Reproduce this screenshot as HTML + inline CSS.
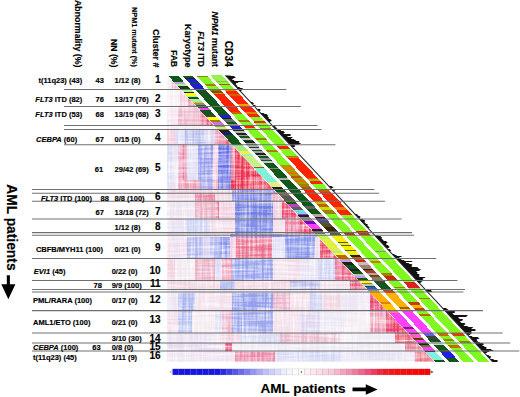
<!DOCTYPE html>
<html><head><meta charset="utf-8"><title>AML clusters</title>
<style>html,body{margin:0;padding:0;background:#fff;}body{width:520px;height:397px;overflow:hidden;font-family:"Liberation Sans",sans-serif;}svg{display:block;}</style>
</head><body>
<svg width="520" height="397" viewBox="0 0 520 397">
<clipPath id="tri"><polygon points="167.20,75.40 434.49,361.80 167.20,361.80"/></clipPath>
<filter id="tex" x="160" y="70" width="290" height="300" filterUnits="userSpaceOnUse" color-interpolation-filters="sRGB">
  <feTurbulence type="fractalNoise" baseFrequency="0.45 0.025" numOctaves="2" seed="5" result="n1"/>
  <feTurbulence type="fractalNoise" baseFrequency="0.025 0.45" numOctaves="2" seed="9" result="n2"/>
  <feTurbulence type="fractalNoise" baseFrequency="1.0" numOctaves="1" seed="2" result="n3"/>
  <feComposite in="n1" in2="n2" operator="arithmetic" k2="0.5" k3="0.5" result="n12"/>
  <feComposite in="n12" in2="n3" operator="arithmetic" k2="0.5" k3="0.25" result="n"/>
  <feColorMatrix in="n" type="matrix" values="0 0 0 0 1  0 0 0 0 1  0 0 0 0 1  3.5 0 0 0 -1.5" result="w"/>
  <feComposite in="w" in2="SourceGraphic" operator="atop" result="o"/>
  <feGaussianBlur in="o" stdDeviation="0.5"/>
</filter>
<g clip-path="url(#tri)"><g filter="url(#tex)">
<rect x="166.0" y="75.4" width="6.0" height="13.9" fill="#f6eaf0"/>
<rect x="172.0" y="75.4" width="9.0" height="13.9" fill="#f0bacf"/>
<rect x="166.0" y="89.3" width="14.0" height="17.3" fill="#f6eef4"/>
<rect x="180.0" y="89.3" width="8.0" height="17.3" fill="#f4cfdd"/>
<rect x="188.0" y="89.3" width="9.0" height="17.3" fill="#eb89a4"/>
<rect x="166.0" y="106.6" width="12.0" height="19.0" fill="#f6e5ee"/>
<rect x="178.0" y="106.6" width="22.0" height="19.0" fill="#edb7ca"/>
<rect x="200.0" y="106.6" width="7.0" height="19.0" fill="#eb7e9e"/>
<rect x="207.0" y="106.6" width="8.0" height="19.0" fill="#eb4d73"/>
<rect x="166.0" y="125.6" width="52.0" height="4.0" fill="#f2eaf4"/>
<rect x="166.0" y="129.6" width="9.0" height="14.6" fill="#f4cfdb"/>
<rect x="175.0" y="129.6" width="10.0" height="14.6" fill="#dbdbf4"/>
<rect x="185.0" y="129.6" width="20.0" height="14.6" fill="#b4baeb"/>
<rect x="205.0" y="129.6" width="10.0" height="14.6" fill="#dbd3f0"/>
<rect x="215.0" y="129.6" width="10.0" height="14.6" fill="#eb94af"/>
<rect x="225.0" y="129.6" width="7.0" height="14.6" fill="#eb6386"/>
<rect x="166.0" y="144.2" width="6.0" height="35.8" fill="#d7d7f4"/>
<rect x="172.0" y="144.2" width="6.0" height="35.8" fill="#eae3f4"/>
<rect x="178.0" y="144.2" width="4.5" height="35.8" fill="#eba4bf"/>
<rect x="182.5" y="144.2" width="2.0" height="35.8" fill="#eb658b"/>
<rect x="184.5" y="144.2" width="2.5" height="35.8" fill="#eba4bf"/>
<rect x="187.0" y="144.2" width="11.0" height="35.8" fill="#dfdbf4"/>
<rect x="198.0" y="144.2" width="15.0" height="35.8" fill="#969ced"/>
<rect x="213.0" y="144.2" width="5.0" height="35.8" fill="#f0cfdf"/>
<rect x="218.0" y="144.2" width="13.0" height="35.8" fill="#636de5"/>
<rect x="231.0" y="144.2" width="4.0" height="35.8" fill="#eb7e9e"/>
<rect x="235.0" y="144.2" width="39.0" height="35.8" fill="#eb324f"/>
<rect x="166.0" y="180.0" width="6.0" height="9.5" fill="#dbd9f4"/>
<rect x="172.0" y="180.0" width="6.0" height="9.5" fill="#ecdff0"/>
<rect x="178.0" y="180.0" width="22.0" height="9.5" fill="#eb99b4"/>
<rect x="200.0" y="180.0" width="13.0" height="9.5" fill="#a9a9eb"/>
<rect x="213.0" y="180.0" width="5.0" height="9.5" fill="#ebb4ca"/>
<rect x="218.0" y="180.0" width="13.0" height="9.5" fill="#7e83e5"/>
<rect x="231.0" y="180.0" width="43.0" height="9.5" fill="#eb324f"/>
<rect x="166.0" y="189.5" width="66.0" height="3.6" fill="#ecd3e3"/>
<rect x="232.0" y="189.5" width="45.0" height="3.6" fill="#8989e5"/>
<rect x="166.0" y="193.1" width="29.0" height="8.0" fill="#f2dbe8"/>
<rect x="195.0" y="193.1" width="20.0" height="8.0" fill="#eb83a4"/>
<rect x="215.0" y="193.1" width="17.0" height="8.0" fill="#f0d7e3"/>
<rect x="232.0" y="193.1" width="40.0" height="8.0" fill="#838be8"/>
<rect x="272.0" y="193.1" width="13.0" height="8.0" fill="#eba9c2"/>
<rect x="166.0" y="201.1" width="29.0" height="18.1" fill="#eee3f0"/>
<rect x="195.0" y="201.1" width="21.0" height="18.1" fill="#ebafc4"/>
<rect x="216.0" y="201.1" width="3.0" height="18.1" fill="#eb6d8e"/>
<rect x="219.0" y="201.1" width="16.0" height="18.1" fill="#f0d1df"/>
<rect x="235.0" y="201.1" width="38.0" height="18.1" fill="#7380e2"/>
<rect x="273.0" y="201.1" width="9.0" height="18.1" fill="#f0cfdf"/>
<rect x="282.0" y="201.1" width="20.0" height="18.1" fill="#eb4770"/>
<rect x="166.0" y="219.2" width="19.0" height="14.8" fill="#e8e3f4"/>
<rect x="185.0" y="219.2" width="25.0" height="14.8" fill="#d1d5f4"/>
<rect x="210.0" y="219.2" width="25.0" height="14.8" fill="#f0d7e3"/>
<rect x="235.0" y="219.2" width="38.0" height="14.8" fill="#808ee7"/>
<rect x="273.0" y="219.2" width="12.0" height="14.8" fill="#f4dfea"/>
<rect x="285.0" y="219.2" width="15.0" height="14.8" fill="#eb83a1"/>
<rect x="300.0" y="219.2" width="16.0" height="14.8" fill="#eb375d"/>
<rect x="166.0" y="234.0" width="64.0" height="3.0" fill="#ecdff0"/>
<rect x="230.0" y="234.0" width="88.0" height="3.0" fill="#8989e5"/>
<rect x="166.0" y="237.0" width="6.0" height="21.3" fill="#f4dfec"/>
<rect x="172.0" y="237.0" width="8.0" height="21.3" fill="#e8dbf0"/>
<rect x="180.0" y="237.0" width="7.0" height="21.3" fill="#f0dbe8"/>
<rect x="187.0" y="237.0" width="16.0" height="21.3" fill="#afb4ed"/>
<rect x="203.0" y="237.0" width="7.0" height="21.3" fill="#d7d1f0"/>
<rect x="210.0" y="237.0" width="10.0" height="21.3" fill="#afb7f0"/>
<rect x="220.0" y="237.0" width="10.0" height="21.3" fill="#838eeb"/>
<rect x="230.0" y="237.0" width="6.0" height="21.3" fill="#f0cfdf"/>
<rect x="236.0" y="237.0" width="36.0" height="21.3" fill="#eb708e"/>
<rect x="272.0" y="237.0" width="13.0" height="21.3" fill="#dbdbf4"/>
<rect x="285.0" y="237.0" width="30.0" height="21.3" fill="#8996eb"/>
<rect x="315.0" y="237.0" width="5.0" height="21.3" fill="#f0dbe8"/>
<rect x="320.0" y="237.0" width="18.0" height="21.3" fill="#eb4768"/>
<rect x="166.0" y="258.3" width="9.0" height="22.0" fill="#f2d3e1"/>
<rect x="175.0" y="258.3" width="20.0" height="22.0" fill="#f2e8f0"/>
<rect x="195.0" y="258.3" width="20.0" height="22.0" fill="#ebb1c7"/>
<rect x="215.0" y="258.3" width="7.0" height="22.0" fill="#dfdbf4"/>
<rect x="222.0" y="258.3" width="10.0" height="22.0" fill="#eb99b4"/>
<rect x="232.0" y="258.3" width="41.0" height="22.0" fill="#96a1ed"/>
<rect x="273.0" y="258.3" width="27.0" height="22.0" fill="#f0dbe8"/>
<rect x="300.0" y="258.3" width="18.0" height="22.0" fill="#e8e3f4"/>
<rect x="318.0" y="258.3" width="17.0" height="22.0" fill="#cfd3f4"/>
<rect x="335.0" y="258.3" width="24.0" height="22.0" fill="#eb6386"/>
<rect x="166.0" y="280.3" width="54.0" height="10.1" fill="#f0d5e1"/>
<rect x="220.0" y="280.3" width="15.0" height="10.1" fill="#b4baf0"/>
<rect x="235.0" y="280.3" width="55.0" height="10.1" fill="#f2d7e3"/>
<rect x="290.0" y="280.3" width="30.0" height="10.1" fill="#babaed"/>
<rect x="320.0" y="280.3" width="30.0" height="10.1" fill="#f0dfea"/>
<rect x="350.0" y="280.3" width="18.0" height="10.1" fill="#eb5a7b"/>
<rect x="166.0" y="290.4" width="204.0" height="2.6" fill="#e3dff2"/>
<rect x="166.0" y="293.0" width="12.0" height="18.0" fill="#eae3f4"/>
<rect x="178.0" y="293.0" width="17.0" height="18.0" fill="#a9b4ed"/>
<rect x="195.0" y="293.0" width="37.0" height="18.0" fill="#f2dfea"/>
<rect x="232.0" y="293.0" width="41.0" height="18.0" fill="#96a1ed"/>
<rect x="273.0" y="293.0" width="17.0" height="18.0" fill="#ebb4ca"/>
<rect x="290.0" y="293.0" width="20.0" height="18.0" fill="#f2dbe5"/>
<rect x="310.0" y="293.0" width="12.0" height="18.0" fill="#cfd3f4"/>
<rect x="322.0" y="293.0" width="18.0" height="18.0" fill="#f2d7e3"/>
<rect x="340.0" y="293.0" width="30.0" height="18.0" fill="#ece5f4"/>
<rect x="370.0" y="293.0" width="17.0" height="18.0" fill="#eb3c68"/>
<rect x="166.0" y="311.0" width="12.0" height="22.0" fill="#f2dbe8"/>
<rect x="178.0" y="311.0" width="14.0" height="22.0" fill="#b4bff0"/>
<rect x="192.0" y="311.0" width="23.0" height="22.0" fill="#f4eaf0"/>
<rect x="215.0" y="311.0" width="7.0" height="22.0" fill="#dbdbf4"/>
<rect x="222.0" y="311.0" width="10.0" height="22.0" fill="#ebb4ca"/>
<rect x="232.0" y="311.0" width="41.0" height="22.0" fill="#9ca7ed"/>
<rect x="273.0" y="311.0" width="27.0" height="22.0" fill="#f2dfea"/>
<rect x="300.0" y="311.0" width="20.0" height="22.0" fill="#dfd7f0"/>
<rect x="320.0" y="311.0" width="25.0" height="22.0" fill="#ece8f4"/>
<rect x="345.0" y="311.0" width="25.0" height="22.0" fill="#f4ecf2"/>
<rect x="370.0" y="311.0" width="16.0" height="22.0" fill="#eb94af"/>
<rect x="386.0" y="311.0" width="22.0" height="22.0" fill="#eb3c68"/>
<rect x="166.0" y="333.0" width="54.0" height="10.0" fill="#ece3f2"/>
<rect x="220.0" y="333.0" width="20.0" height="10.0" fill="#f0cfdf"/>
<rect x="240.0" y="333.0" width="40.0" height="10.0" fill="#dbdbf4"/>
<rect x="280.0" y="333.0" width="60.0" height="10.0" fill="#ebbccf"/>
<rect x="340.0" y="333.0" width="55.0" height="10.0" fill="#f0eaf4"/>
<rect x="395.0" y="333.0" width="22.0" height="10.0" fill="#eb687c"/>
<rect x="166.0" y="343.0" width="59.0" height="8.5" fill="#e8dbf0"/>
<rect x="225.0" y="343.0" width="7.0" height="8.5" fill="#eb4773"/>
<rect x="232.0" y="343.0" width="173.0" height="8.5" fill="#eeeaf4"/>
<rect x="405.0" y="343.0" width="20.0" height="8.5" fill="#eb7e99"/>
<rect x="166.0" y="351.5" width="69.0" height="10.3" fill="#eee3f2"/>
<rect x="235.0" y="351.5" width="40.0" height="10.3" fill="#eb89a7"/>
<rect x="275.0" y="351.5" width="30.0" height="10.3" fill="#d7dbf4"/>
<rect x="305.0" y="351.5" width="35.0" height="10.3" fill="#cfd3f4"/>
<rect x="340.0" y="351.5" width="75.0" height="10.3" fill="#e8e3f4"/>
<rect x="415.0" y="351.5" width="21.0" height="10.3" fill="#eb687c"/>
</g></g>
<g shape-rendering="crispEdges">
<polygon points="168.07,75.80 178.17,75.80 183.96,82.00 173.86,82.00" fill="#10581a"/>
<polygon points="173.86,82.00 183.96,82.00 185.36,83.50 175.26,83.50" fill="#c0a0e0"/>
<polygon points="175.26,83.50 185.36,83.50 187.97,86.30 177.87,86.30" fill="#a8f0a0"/>
<polygon points="177.87,86.30 187.97,86.30 190.87,89.40 180.77,89.40" fill="#1a3a1a"/>
<polygon points="180.77,89.40 190.87,89.40 193.01,91.70 182.91,91.70" fill="#a8f0a0"/>
<polygon points="182.91,91.70 193.01,91.70 194.41,93.20 184.31,93.20" fill="#202020"/>
<polygon points="184.31,93.20 194.41,93.20 196.56,95.50 186.46,95.50" fill="#ffff10"/>
<polygon points="186.46,95.50 196.56,95.50 197.96,97.00 187.86,97.00" fill="#a8f0a0"/>
<polygon points="187.86,97.00 197.96,97.00 199.36,98.50 189.26,98.50" fill="#10581a"/>
<polygon points="189.26,98.50 199.36,98.50 202.16,101.50 192.06,101.50" fill="#a8f0a0"/>
<polygon points="192.06,101.50 202.16,101.50 203.56,103.00 193.46,103.00" fill="#ffb000"/>
<polygon points="193.46,103.00 203.56,103.00 205.80,105.40 195.70,105.40" fill="#70a070"/>
<polygon points="195.70,105.40 205.80,105.40 207.94,107.70 197.84,107.70" fill="#405040"/>
<polygon points="197.84,107.70 207.94,107.70 210.09,110.00 199.99,110.00" fill="#ff40ff"/>
<polygon points="199.99,110.00 210.09,110.00 214.76,115.00 204.66,115.00" fill="#10581a"/>
<polygon points="204.66,115.00 214.76,115.00 216.62,117.00 206.52,117.00" fill="#404040"/>
<polygon points="206.52,117.00 216.62,117.00 219.42,120.00 209.32,120.00" fill="#ffff10"/>
<polygon points="209.32,120.00 219.42,120.00 221.57,122.30 211.47,122.30" fill="#a08000"/>
<polygon points="211.47,122.30 221.57,122.30 223.72,124.60 213.62,124.60" fill="#d070e0"/>
<polygon points="213.62,124.60 223.72,124.60 225.96,127.00 215.86,127.00" fill="#80a080"/>
<polygon points="215.86,127.00 225.96,127.00 227.82,129.00 217.72,129.00" fill="#d8f060"/>
<polygon points="217.72,129.00 227.82,129.00 230.62,132.00 220.52,132.00" fill="#202020"/>
<polygon points="220.52,132.00 230.62,132.00 233.42,135.00 223.32,135.00" fill="#202060"/>
<polygon points="223.32,135.00 233.42,135.00 241.54,143.70 231.44,143.70" fill="#10581a"/>
<polygon points="231.44,143.70 241.54,143.70 242.76,145.00 232.66,145.00" fill="#202020"/>
<polygon points="232.66,145.00 242.76,145.00 247.98,150.60 237.88,150.60" fill="#a0e880"/>
<polygon points="237.88,150.60 247.98,150.60 250.88,153.70 240.78,153.70" fill="#f0f040"/>
<polygon points="240.78,153.70 250.88,153.70 253.02,156.00 242.92,156.00" fill="#a0f0c0"/>
<polygon points="242.92,156.00 253.02,156.00 263.10,166.80 253.00,166.80" fill="#c8f088"/>
<polygon points="253.00,166.80 263.10,166.80 264.50,168.30 254.40,168.30" fill="#806020"/>
<polygon points="254.40,168.30 264.50,168.30 277.29,182.00 267.19,182.00" fill="#80f0d8"/>
<polygon points="267.19,182.00 277.29,182.00 281.95,187.00 271.85,187.00" fill="#e0f080"/>
<polygon points="271.85,187.00 281.95,187.00 284.19,189.40 274.09,189.40" fill="#202020"/>
<polygon points="274.09,189.40 284.19,189.40 286.34,191.70 276.24,191.70" fill="#10581a"/>
<polygon points="276.24,191.70 286.34,191.70 289.89,195.50 279.79,195.50" fill="#707050"/>
<polygon points="279.79,195.50 289.89,195.50 293.53,199.40 283.43,199.40" fill="#605060"/>
<polygon points="283.43,199.40 293.53,199.40 295.95,202.00 285.85,202.00" fill="#506030"/>
<polygon points="285.85,202.00 295.95,202.00 297.82,204.00 287.72,204.00" fill="#10581a"/>
<polygon points="287.72,204.00 297.82,204.00 300.62,207.00 290.52,207.00" fill="#c040c0"/>
<polygon points="290.52,207.00 300.62,207.00 303.42,210.00 293.32,210.00" fill="#606060"/>
<polygon points="293.32,210.00 303.42,210.00 306.68,213.50 296.58,213.50" fill="#80d0f0"/>
<polygon points="296.58,213.50 306.68,213.50 308.08,215.00 297.98,215.00" fill="#8040c0"/>
<polygon points="297.98,215.00 308.08,215.00 309.95,217.00 299.85,217.00" fill="#202020"/>
<polygon points="299.85,217.00 309.95,217.00 313.68,221.00 303.58,221.00" fill="#909090"/>
<polygon points="303.58,221.00 313.68,221.00 316.48,224.00 306.38,224.00" fill="#8000c0"/>
<polygon points="306.38,224.00 316.48,224.00 321.15,229.00 311.05,229.00" fill="#ff40ff"/>
<polygon points="311.05,229.00 321.15,229.00 323.02,231.00 312.92,231.00" fill="#202020"/>
<polygon points="312.92,231.00 323.02,231.00 325.35,233.50 315.25,233.50" fill="#707070"/>
<polygon points="315.25,233.50 325.35,233.50 330.48,239.00 320.38,239.00" fill="#c0f060"/>
<polygon points="320.38,239.00 330.48,239.00 341.50,250.80 331.40,250.80" fill="#e0f040"/>
<polygon points="331.40,250.80 341.50,250.80 343.55,253.00 333.45,253.00" fill="#a8f0a0"/>
<polygon points="333.45,253.00 343.55,253.00 345.79,255.40 335.69,255.40" fill="#ffff10"/>
<polygon points="335.69,255.40 345.79,255.40 347.94,257.70 337.84,257.70" fill="#c06000"/>
<polygon points="337.84,257.70 347.94,257.70 350.08,260.00 339.98,260.00" fill="#f0a000"/>
<polygon points="339.98,260.00 350.08,260.00 352.23,262.30 342.13,262.30" fill="#c0a0e0"/>
<polygon points="342.13,262.30 352.23,262.30 355.12,265.40 345.02,265.40" fill="#202020"/>
<polygon points="345.02,265.40 355.12,265.40 358.67,269.20 348.57,269.20" fill="#10581a"/>
<polygon points="348.57,269.20 358.67,269.20 360.35,271.00 350.25,271.00" fill="#202020"/>
<polygon points="350.25,271.00 360.35,271.00 362.68,273.50 352.58,273.50" fill="#10581a"/>
<polygon points="352.58,273.50 362.68,273.50 365.01,276.00 354.91,276.00" fill="#c0c0c0"/>
<polygon points="354.91,276.00 365.01,276.00 366.88,278.00 356.78,278.00" fill="#c0a0e0"/>
<polygon points="356.78,278.00 366.88,278.00 369.03,280.30 358.93,280.30" fill="#10581a"/>
<polygon points="358.93,280.30 369.03,280.30 371.17,282.60 361.07,282.60" fill="#ffff10"/>
<polygon points="361.07,282.60 371.17,282.60 372.48,284.00 362.38,284.00" fill="#a08000"/>
<polygon points="362.38,284.00 372.48,284.00 374.07,285.70 363.97,285.70" fill="#c0c0c0"/>
<polygon points="363.97,285.70 374.07,285.70 375.47,287.20 365.37,287.20" fill="#10581a"/>
<polygon points="365.37,287.20 375.47,287.20 377.61,289.50 367.51,289.50" fill="#2060e0"/>
<polygon points="367.51,289.50 377.61,289.50 379.01,291.00 368.91,291.00" fill="#909090"/>
<polygon points="368.91,291.00 379.01,291.00 389.28,302.00 379.18,302.00" fill="#ffb000"/>
<polygon points="379.18,302.00 389.28,302.00 390.87,303.70 380.77,303.70" fill="#e08000"/>
<polygon points="380.77,303.70 390.87,303.70 397.31,310.60 387.21,310.60" fill="#ffc000"/>
<polygon points="387.21,310.60 397.31,310.60 399.55,313.00 389.45,313.00" fill="#ff8080"/>
<polygon points="389.45,313.00 399.55,313.00 412.24,326.60 402.14,326.60" fill="#ff40ff"/>
<polygon points="402.14,326.60 412.24,326.60 414.48,329.00 404.38,329.00" fill="#802080"/>
<polygon points="404.38,329.00 414.48,329.00 418.02,332.80 407.92,332.80" fill="#ff40ff"/>
<polygon points="407.92,332.80 418.02,332.80 419.42,334.30 409.32,334.30" fill="#202020"/>
<polygon points="409.32,334.30 419.42,334.30 422.88,338.00 412.78,338.00" fill="#ff60c0"/>
<polygon points="412.78,338.00 422.88,338.00 425.02,340.30 414.92,340.30" fill="#604000"/>
<polygon points="414.92,340.30 425.02,340.30 427.17,342.60 417.07,342.60" fill="#ff40ff"/>
<polygon points="417.07,342.60 427.17,342.60 429.41,345.00 419.31,345.00" fill="#202020"/>
<polygon points="419.31,345.00 429.41,345.00 431.65,347.40 421.55,347.40" fill="#608020"/>
<polygon points="421.55,347.40 431.65,347.40 434.54,350.50 424.44,350.50" fill="#ff40ff"/>
<polygon points="424.44,350.50 434.54,350.50 435.94,352.00 425.84,352.00" fill="#202020"/>
<polygon points="425.84,352.00 435.94,352.00 443.41,360.00 433.31,360.00" fill="#80f0e0"/>
<polygon points="433.31,360.00 443.41,360.00 445.09,361.80 434.99,361.80" fill="#10581a"/>
<polygon points="182.37,75.80 192.57,75.80 194.44,77.80 184.24,77.80" fill="#10581a"/>
<polygon points="184.24,77.80 194.44,77.80 195.93,79.40 185.73,79.40" fill="#202020"/>
<polygon points="185.73,79.40 195.93,79.40 198.83,82.50 188.63,82.50" fill="#2020d0"/>
<polygon points="188.63,82.50 198.83,82.50 200.23,84.00 190.03,84.00" fill="#10581a"/>
<polygon points="190.03,84.00 200.23,84.00 204.52,88.60 194.32,88.60" fill="#2020d0"/>
<polygon points="194.32,88.60 204.52,88.60 205.83,90.00 195.63,90.00" fill="#202020"/>
<polygon points="195.63,90.00 205.83,90.00 207.41,91.70 197.21,91.70" fill="#10581a"/>
<polygon points="197.21,91.70 207.41,91.70 209.56,94.00 199.36,94.00" fill="#304030"/>
<polygon points="199.36,94.00 209.56,94.00 229.53,115.40 219.33,115.40" fill="#10581a"/>
<polygon points="219.33,115.40 229.53,115.40 231.68,117.70 221.48,117.70" fill="#2020d0"/>
<polygon points="221.48,117.70 231.68,117.70 233.08,119.20 222.88,119.20" fill="#202020"/>
<polygon points="222.88,119.20 233.08,119.20 235.22,121.50 225.02,121.50" fill="#607060"/>
<polygon points="225.02,121.50 235.22,121.50 237.37,123.80 227.17,123.80" fill="#10581a"/>
<polygon points="227.17,123.80 237.37,123.80 238.86,125.40 228.66,125.40" fill="#909090"/>
<polygon points="228.66,125.40 238.86,125.40 242.41,129.20 232.21,129.20" fill="#2020d0"/>
<polygon points="232.21,129.20 242.41,129.20 244.46,131.40 234.26,131.40" fill="#183018"/>
<polygon points="234.26,131.40 244.46,131.40 245.96,133.00 235.76,133.00" fill="#b8b8b8"/>
<polygon points="235.76,133.00 245.96,133.00 247.36,134.50 237.16,134.50" fill="#202020"/>
<polygon points="237.16,134.50 247.36,134.50 248.29,135.50 238.09,135.50" fill="#a0a0a0"/>
<polygon points="238.09,135.50 248.29,135.50 250.90,138.30 240.70,138.30" fill="#10581a"/>
<polygon points="240.70,138.30 250.90,138.30 252.02,139.50 241.82,139.50" fill="#c0c0c0"/>
<polygon points="241.82,139.50 252.02,139.50 253.80,141.40 243.60,141.40" fill="#10581a"/>
<polygon points="243.60,141.40 253.80,141.40 254.92,142.60 244.72,142.60" fill="#202020"/>
<polygon points="244.72,142.60 254.92,142.60 255.94,143.70 245.74,143.70" fill="#a8a8a8"/>
<polygon points="245.74,143.70 255.94,143.70 257.34,145.20 247.14,145.20" fill="#10581a"/>
<polygon points="247.14,145.20 257.34,145.20 258.84,146.80 248.64,146.80" fill="#b0b0b0"/>
<polygon points="248.64,146.80 258.84,146.80 260.24,148.30 250.04,148.30" fill="#283828"/>
<polygon points="250.04,148.30 260.24,148.30 261.64,149.80 251.44,149.80" fill="#c8c8c8"/>
<polygon points="251.44,149.80 261.64,149.80 263.13,151.40 252.93,151.40" fill="#10581a"/>
<polygon points="252.93,151.40 263.13,151.40 264.62,153.00 254.42,153.00" fill="#a0a0a0"/>
<polygon points="254.42,153.00 264.62,153.00 266.02,154.50 255.82,154.50" fill="#202020"/>
<polygon points="255.82,154.50 266.02,154.50 267.42,156.00 257.22,156.00" fill="#b0b0b0"/>
<polygon points="257.22,156.00 267.42,156.00 269.29,158.00 259.09,158.00" fill="#10581a"/>
<polygon points="259.09,158.00 269.29,158.00 270.69,159.50 260.49,159.50" fill="#909090"/>
<polygon points="260.49,159.50 270.69,159.50 271.71,160.60 261.51,160.60" fill="#10581a"/>
<polygon points="261.51,160.60 271.71,160.60 273.95,163.00 263.75,163.00" fill="#c8c8c8"/>
<polygon points="263.75,163.00 273.95,163.00 278.15,167.50 267.95,167.50" fill="#10581a"/>
<polygon points="267.95,167.50 278.15,167.50 279.55,169.00 269.35,169.00" fill="#908070"/>
<polygon points="269.35,169.00 279.55,169.00 287.49,177.50 277.29,177.50" fill="#10581a"/>
<polygon points="277.29,177.50 287.49,177.50 289.82,180.00 279.62,180.00" fill="#b0b0b0"/>
<polygon points="279.62,180.00 289.82,180.00 313.62,205.50 303.42,205.50" fill="#10581a"/>
<polygon points="303.42,205.50 313.62,205.50 316.89,209.00 306.69,209.00" fill="#606060"/>
<polygon points="306.69,209.00 316.89,209.00 321.08,213.50 310.88,213.50" fill="#10581a"/>
<polygon points="310.88,213.50 321.08,213.50 323.98,216.60 313.78,216.60" fill="#c0a0a0"/>
<polygon points="313.78,216.60 323.98,216.60 326.22,219.00 316.02,219.00" fill="#202020"/>
<polygon points="316.02,219.00 326.22,219.00 328.08,221.00 317.88,221.00" fill="#6040c0"/>
<polygon points="317.88,221.00 328.08,221.00 330.88,224.00 320.68,224.00" fill="#505050"/>
<polygon points="320.68,224.00 330.88,224.00 334.06,227.40 323.86,227.40" fill="#505020"/>
<polygon points="323.86,227.40 334.06,227.40 336.95,230.50 326.75,230.50" fill="#402010"/>
<polygon points="326.75,230.50 336.95,230.50 341.15,235.00 330.95,235.00" fill="#406040"/>
<polygon points="330.95,235.00 341.15,235.00 347.68,242.00 337.48,242.00" fill="#f0f000"/>
<polygon points="337.48,242.00 347.68,242.00 348.62,243.00 338.42,243.00" fill="#606000"/>
<polygon points="338.42,243.00 348.62,243.00 350.48,245.00 340.28,245.00" fill="#f0f000"/>
<polygon points="340.28,245.00 350.48,245.00 351.42,246.00 341.22,246.00" fill="#606000"/>
<polygon points="341.22,246.00 351.42,246.00 355.15,250.00 344.95,250.00" fill="#f0f000"/>
<polygon points="344.95,250.00 355.15,250.00 356.08,251.00 345.88,251.00" fill="#606000"/>
<polygon points="345.88,251.00 356.08,251.00 360.19,255.40 349.99,255.40" fill="#f0f000"/>
<polygon points="349.99,255.40 360.19,255.40 361.68,257.00 351.48,257.00" fill="#202020"/>
<polygon points="351.48,257.00 361.68,257.00 364.48,260.00 354.28,260.00" fill="#c06000"/>
<polygon points="354.28,260.00 364.48,260.00 366.63,262.30 356.43,262.30" fill="#e02020"/>
<polygon points="356.43,262.30 366.63,262.30 369.52,265.40 359.32,265.40" fill="#c0c0c0"/>
<polygon points="359.32,265.40 369.52,265.40 373.07,269.20 362.87,269.20" fill="#a08070"/>
<polygon points="362.87,269.20 373.07,269.20 374.09,270.30 363.89,270.30" fill="#202020"/>
<polygon points="363.89,270.30 374.09,270.30 376.24,272.60 366.04,272.60" fill="#a04020"/>
<polygon points="366.04,272.60 376.24,272.60 378.39,274.90 368.19,274.90" fill="#c0a0a0"/>
<polygon points="368.19,274.90 378.39,274.90 380.53,277.20 370.33,277.20" fill="#804020"/>
<polygon points="370.33,277.20 380.53,277.20 383.43,280.30 373.23,280.30" fill="#808060"/>
<polygon points="373.23,280.30 383.43,280.30 386.32,283.40 376.12,283.40" fill="#404040"/>
<polygon points="376.12,283.40 386.32,283.40 392.01,289.50 381.81,289.50" fill="#10581a"/>
<polygon points="381.81,289.50 392.01,289.50 394.91,292.60 384.71,292.60" fill="#c04020"/>
<polygon points="384.71,292.60 394.91,292.60 408.16,306.80 397.96,306.80" fill="#ffb000"/>
<polygon points="397.96,306.80 408.16,306.80 410.21,309.00 400.01,309.00" fill="#a06000"/>
<polygon points="400.01,309.00 410.21,309.00 412.45,311.40 402.25,311.40" fill="#ffc020"/>
<polygon points="402.25,311.40 412.45,311.40 432.42,332.80 422.22,332.80" fill="#ff40ff"/>
<polygon points="422.22,332.80 432.42,332.80 435.41,336.00 425.21,336.00" fill="#6060e0"/>
<polygon points="425.21,336.00 435.41,336.00 438.21,339.00 428.01,339.00" fill="#404040"/>
<polygon points="428.01,339.00 438.21,339.00 441.01,342.00 430.81,342.00" fill="#10581a"/>
<polygon points="430.81,342.00 441.01,342.00 443.81,345.00 433.61,345.00" fill="#d0d0d0"/>
<polygon points="433.61,345.00 443.81,345.00 448.94,350.50 438.74,350.50" fill="#10581a"/>
<polygon points="438.74,350.50 448.94,350.50 450.34,352.00 440.14,352.00" fill="#202020"/>
<polygon points="440.14,352.00 450.34,352.00 455.94,358.00 445.74,358.00" fill="#2020e0"/>
<polygon points="445.74,358.00 455.94,358.00 459.49,361.80 449.29,361.80" fill="#10581a"/>
<polygon points="196.57,75.80 207.07,75.80 208.19,77.00 197.69,77.00" fill="#a08000"/>
<polygon points="197.69,77.00 208.19,77.00 214.73,84.00 204.23,84.00" fill="#80f820"/>
<polygon points="204.23,84.00 214.73,84.00 216.13,85.50 205.63,85.50" fill="#a08000"/>
<polygon points="205.63,85.50 216.13,85.50 219.77,89.40 209.27,89.40" fill="#80f820"/>
<polygon points="209.27,89.40 219.77,89.40 221.26,91.00 210.76,91.00" fill="#b06000"/>
<polygon points="210.76,91.00 221.26,91.00 222.66,92.50 212.16,92.50" fill="#606000"/>
<polygon points="212.16,92.50 222.66,92.50 224.06,94.00 213.56,94.00" fill="#e08000"/>
<polygon points="213.56,94.00 224.06,94.00 240.39,111.50 229.89,111.50" fill="#ff2400"/>
<polygon points="229.89,111.50 240.39,111.50 242.54,113.80 232.04,113.80" fill="#d06000"/>
<polygon points="232.04,113.80 242.54,113.80 248.32,120.00 237.82,120.00" fill="#80f820"/>
<polygon points="237.82,120.00 248.32,120.00 249.72,121.50 239.22,121.50" fill="#a08000"/>
<polygon points="239.22,121.50 249.72,121.50 253.92,126.00 243.42,126.00" fill="#80f820"/>
<polygon points="243.42,126.00 253.92,126.00 255.32,127.50 244.82,127.50" fill="#ff2400"/>
<polygon points="244.82,127.50 255.32,127.50 265.40,138.30 254.90,138.30" fill="#80f820"/>
<polygon points="254.90,138.30 265.40,138.30 266.99,140.00 256.49,140.00" fill="#a08000"/>
<polygon points="256.49,140.00 266.99,140.00 276.32,150.00 265.82,150.00" fill="#80f820"/>
<polygon points="265.82,150.00 276.32,150.00 277.72,151.50 267.22,151.50" fill="#a08000"/>
<polygon points="267.22,151.50 277.72,151.50 289.85,164.50 279.35,164.50" fill="#80f820"/>
<polygon points="279.35,164.50 289.85,164.50 292.19,167.00 281.69,167.00" fill="#a0a000"/>
<polygon points="281.69,167.00 292.19,167.00 294.99,170.00 284.49,170.00" fill="#e08000"/>
<polygon points="284.49,170.00 294.99,170.00 296.85,172.00 286.35,172.00" fill="#a0a000"/>
<polygon points="286.35,172.00 296.85,172.00 298.72,174.00 288.22,174.00" fill="#e07000"/>
<polygon points="288.22,174.00 298.72,174.00 300.59,176.00 290.09,176.00" fill="#a0a000"/>
<polygon points="290.09,176.00 300.59,176.00 302.45,178.00 291.95,178.00" fill="#c05000"/>
<polygon points="291.95,178.00 302.45,178.00 304.32,180.00 293.82,180.00" fill="#a0a000"/>
<polygon points="293.82,180.00 304.32,180.00 306.19,182.00 295.69,182.00" fill="#e07000"/>
<polygon points="295.69,182.00 306.19,182.00 308.05,184.00 297.55,184.00" fill="#a0a000"/>
<polygon points="297.55,184.00 308.05,184.00 310.85,187.00 300.35,187.00" fill="#a08000"/>
<polygon points="300.35,187.00 310.85,187.00 312.72,189.00 302.22,189.00" fill="#c05000"/>
<polygon points="302.22,189.00 312.72,189.00 323.92,201.00 313.42,201.00" fill="#ff2400"/>
<polygon points="313.42,201.00 323.92,201.00 326.72,204.00 316.22,204.00" fill="#c0c000"/>
<polygon points="316.22,204.00 326.72,204.00 329.52,207.00 319.02,207.00" fill="#c06000"/>
<polygon points="319.02,207.00 329.52,207.00 332.32,210.00 321.82,210.00" fill="#c0e000"/>
<polygon points="321.82,210.00 332.32,210.00 335.58,213.50 325.08,213.50" fill="#a08000"/>
<polygon points="325.08,213.50 335.58,213.50 352.38,231.50 341.88,231.50" fill="#80f820"/>
<polygon points="341.88,231.50 352.38,231.50 355.18,234.50 344.68,234.50" fill="#d02800"/>
<polygon points="344.68,234.50 355.18,234.50 379.92,261.00 369.42,261.00" fill="#80f820"/>
<polygon points="369.42,261.00 379.92,261.00 381.32,262.50 370.82,262.50" fill="#e07000"/>
<polygon points="370.82,262.50 381.32,262.50 391.11,273.00 380.61,273.00" fill="#80f820"/>
<polygon points="380.61,273.00 391.11,273.00 393.63,275.70 383.13,275.70" fill="#a08000"/>
<polygon points="383.13,275.70 393.63,275.70 397.93,280.30 387.43,280.30" fill="#c03000"/>
<polygon points="387.43,280.30 397.93,280.30 403.71,286.50 393.21,286.50" fill="#80f820"/>
<polygon points="393.21,286.50 403.71,286.50 405.11,288.00 394.61,288.00" fill="#a08000"/>
<polygon points="394.61,288.00 405.11,288.00 418.18,302.00 407.68,302.00" fill="#80f820"/>
<polygon points="407.68,302.00 418.18,302.00 420.98,305.00 410.48,305.00" fill="#c04000"/>
<polygon points="410.48,305.00 420.98,305.00 423.31,307.50 412.81,307.50" fill="#ffb000"/>
<polygon points="412.81,307.50 423.31,307.50 426.95,311.40 416.45,311.40" fill="#c04000"/>
<polygon points="416.45,311.40 426.95,311.40 429.10,313.70 418.60,313.70" fill="#80f820"/>
<polygon points="418.60,313.70 429.10,313.70 431.25,316.00 420.75,316.00" fill="#c06000"/>
<polygon points="420.75,316.00 431.25,316.00 446.92,332.80 436.42,332.80" fill="#80f820"/>
<polygon points="436.42,332.80 446.92,332.80 449.91,336.00 439.41,336.00" fill="#c07000"/>
<polygon points="439.41,336.00 449.91,336.00 452.71,339.00 442.21,339.00" fill="#80f820"/>
<polygon points="442.21,339.00 452.71,339.00 454.58,341.00 444.08,341.00" fill="#a08000"/>
<polygon points="444.08,341.00 454.58,341.00 458.31,345.00 447.81,345.00" fill="#80f820"/>
<polygon points="447.81,345.00 458.31,345.00 461.11,348.00 450.61,348.00" fill="#c07000"/>
<polygon points="450.61,348.00 461.11,348.00 473.99,361.80 463.49,361.80" fill="#80f820"/>
<polygon points="210.50,75.40 221.90,75.40 227.13,81.00 215.73,81.00" fill="#98f050"/>
<polygon points="215.73,81.00 227.13,81.00 228.06,82.00 216.66,82.00" fill="#90c040"/>
<polygon points="216.66,82.00 228.06,82.00 229.46,83.50 218.06,83.50" fill="#90f040"/>
<polygon points="218.06,83.50 229.46,83.50 230.86,85.00 219.46,85.00" fill="#a06000"/>
<polygon points="219.46,85.00 230.86,85.00 234.97,89.40 223.57,89.40" fill="#80f820"/>
<polygon points="223.57,89.40 234.97,89.40 236.46,91.00 225.06,91.00" fill="#e08000"/>
<polygon points="225.06,91.00 236.46,91.00 239.26,94.00 227.86,94.00" fill="#ff2400"/>
<polygon points="227.86,94.00 239.26,94.00 241.13,96.00 229.73,96.00" fill="#d06000"/>
<polygon points="229.73,96.00 241.13,96.00 248.59,104.00 237.19,104.00" fill="#ff2400"/>
<polygon points="237.19,104.00 248.59,104.00 249.99,105.50 238.59,105.50" fill="#f0a000"/>
<polygon points="238.59,105.50 249.99,105.50 256.34,112.30 244.94,112.30" fill="#ff2400"/>
<polygon points="244.94,112.30 256.34,112.30 257.92,114.00 246.52,114.00" fill="#e08000"/>
<polygon points="246.52,114.00 257.92,114.00 260.72,117.00 249.32,117.00" fill="#ff2400"/>
<polygon points="249.32,117.00 260.72,117.00 264.46,121.00 253.06,121.00" fill="#80f820"/>
<polygon points="253.06,121.00 264.46,121.00 266.32,123.00 254.92,123.00" fill="#ff2400"/>
<polygon points="254.92,123.00 266.32,123.00 270.99,128.00 259.59,128.00" fill="#80f820"/>
<polygon points="259.59,128.00 270.99,128.00 271.92,129.00 260.52,129.00" fill="#a08000"/>
<polygon points="260.52,129.00 271.92,129.00 287.79,146.00 276.39,146.00" fill="#80f820"/>
<polygon points="276.39,146.00 287.79,146.00 290.59,149.00 279.19,149.00" fill="#ff2400"/>
<polygon points="279.19,149.00 290.59,149.00 297.12,156.00 285.72,156.00" fill="#80f820"/>
<polygon points="285.72,156.00 297.12,156.00 298.05,157.00 286.65,157.00" fill="#a08000"/>
<polygon points="286.65,157.00 298.05,157.00 299.27,158.30 287.87,158.30" fill="#e08000"/>
<polygon points="287.87,158.30 299.27,158.30 317.37,177.70 305.97,177.70" fill="#ff2400"/>
<polygon points="305.97,177.70 317.37,177.70 318.77,179.20 307.37,179.20" fill="#e06000"/>
<polygon points="307.37,179.20 318.77,179.20 320.45,181.00 309.05,181.00" fill="#a0c000"/>
<polygon points="309.05,181.00 320.45,181.00 322.79,183.50 311.39,183.50" fill="#ff2400"/>
<polygon points="311.39,183.50 322.79,183.50 327.73,188.80 316.33,188.80" fill="#80f820"/>
<polygon points="316.33,188.80 327.73,188.80 328.48,189.60 317.08,189.60" fill="#a08000"/>
<polygon points="317.08,189.60 328.48,189.60 330.25,191.50 318.85,191.50" fill="#c06000"/>
<polygon points="318.85,191.50 330.25,191.50 344.72,207.00 333.32,207.00" fill="#ff2400"/>
<polygon points="333.32,207.00 344.72,207.00 347.52,210.00 336.12,210.00" fill="#e08000"/>
<polygon points="336.12,210.00 347.52,210.00 352.18,215.00 340.78,215.00" fill="#ff2400"/>
<polygon points="340.78,215.00 352.18,215.00 366.65,230.50 355.25,230.50" fill="#80f820"/>
<polygon points="355.25,230.50 366.65,230.50 370.48,234.60 359.08,234.60" fill="#e02000"/>
<polygon points="359.08,234.60 370.48,234.60 385.32,250.50 373.92,250.50" fill="#80f820"/>
<polygon points="373.92,250.50 385.32,250.50 386.25,251.50 374.85,251.50" fill="#909090"/>
<polygon points="374.85,251.50 386.25,251.50 414.53,281.80 403.13,281.80" fill="#80f820"/>
<polygon points="403.13,281.80 414.53,281.80 420.31,288.00 408.91,288.00" fill="#e02020"/>
<polygon points="408.91,288.00 420.31,288.00 429.65,298.00 418.25,298.00" fill="#80f820"/>
<polygon points="418.25,298.00 429.65,298.00 430.58,299.00 419.18,299.00" fill="#a08000"/>
<polygon points="419.18,299.00 430.58,299.00 461.84,332.50 450.44,332.50" fill="#80f820"/>
<polygon points="450.44,332.50 461.84,332.50 464.64,335.50 453.24,335.50" fill="#e04000"/>
<polygon points="453.24,335.50 464.64,335.50 469.31,340.50 457.91,340.50" fill="#80f820"/>
<polygon points="457.91,340.50 469.31,340.50 471.46,342.80 460.06,342.80" fill="#a08000"/>
<polygon points="460.06,342.80 471.46,342.80 489.19,361.80 477.79,361.80" fill="#80f820"/>
</g>
<g fill="#111">
<polygon points="225.20,75.40 230.50,75.40 231.57,76.55 226.27,76.55"/>
<polygon points="225.67,75.90 233.97,75.90 235.04,77.05 226.74,77.05"/>
<polygon points="226.60,76.90 234.90,76.90 235.97,78.05 227.67,78.05"/>
<polygon points="227.53,77.90 232.83,77.90 233.91,79.05 228.61,79.05"/>
<polygon points="228.47,78.90 231.77,78.90 232.84,80.05 229.54,80.05"/>
<polygon points="229.40,79.90 233.70,79.90 234.77,81.05 230.47,81.05"/>
<polygon points="230.33,80.90 242.63,80.90 243.71,82.05 231.41,82.05"/>
<polygon points="231.27,81.90 237.57,81.90 238.64,83.05 232.34,83.05"/>
<polygon points="232.20,82.90 235.50,82.90 236.57,84.05 233.27,84.05"/>
<polygon points="233.13,83.90 235.43,83.90 236.51,85.05 234.21,85.05"/>
<polygon points="234.07,84.90 236.37,84.90 237.44,86.05 235.14,86.05"/>
<polygon points="235.00,85.90 236.80,85.90 237.87,87.05 236.07,87.05"/>
<polygon points="235.93,86.90 239.23,86.90 240.31,88.05 237.01,88.05"/>
<polygon points="236.87,87.90 242.17,87.90 243.24,89.05 237.94,89.05"/>
<polygon points="237.80,88.90 242.10,88.90 243.17,90.05 238.87,90.05"/>
<polygon points="238.73,89.90 241.03,89.90 242.11,91.05 239.81,91.05"/>
<polygon points="249.93,101.90 252.23,101.90 253.30,103.05 251.00,103.05"/>
<polygon points="250.86,102.90 253.16,102.90 254.24,104.05 251.94,104.05"/>
<polygon points="252.73,104.90 255.03,104.90 256.10,106.05 253.80,106.05"/>
<polygon points="253.66,105.90 256.96,105.90 258.04,107.05 254.74,107.05"/>
<polygon points="256.46,108.90 259.76,108.90 260.84,110.05 257.54,110.05"/>
<polygon points="257.40,109.90 259.70,109.90 260.77,111.05 258.47,111.05"/>
<polygon points="260.20,112.90 263.50,112.90 264.57,114.05 261.27,114.05"/>
<polygon points="261.13,113.90 266.43,113.90 267.50,115.05 262.20,115.05"/>
<polygon points="262.06,114.90 267.36,114.90 268.44,116.05 263.14,116.05"/>
<polygon points="263.00,115.90 267.30,115.90 268.37,117.05 264.07,117.05"/>
<polygon points="263.93,116.90 268.23,116.90 269.30,118.05 265.00,118.05"/>
<polygon points="264.86,117.90 268.16,117.90 269.24,119.05 265.94,119.05"/>
<polygon points="265.80,118.90 270.10,118.90 271.17,120.05 266.87,120.05"/>
<polygon points="266.73,119.90 271.03,119.90 272.10,121.05 267.80,121.05"/>
<polygon points="267.66,120.90 269.96,120.90 271.04,122.05 268.74,122.05"/>
<polygon points="272.33,125.90 274.63,125.90 275.70,127.05 273.40,127.05"/>
<polygon points="273.26,126.90 275.56,126.90 276.64,128.05 274.34,128.05"/>
<polygon points="274.20,127.90 276.50,127.90 277.57,129.05 275.27,129.05"/>
<polygon points="275.13,128.90 277.43,128.90 278.50,130.05 276.20,130.05"/>
<polygon points="276.06,129.90 280.36,129.90 281.44,131.05 277.14,131.05"/>
<polygon points="277.00,130.90 283.30,130.90 284.37,132.05 278.07,132.05"/>
<polygon points="277.93,131.90 284.23,131.90 285.30,133.05 279.00,133.05"/>
<polygon points="278.86,132.90 283.16,132.90 284.24,134.05 279.94,134.05"/>
<polygon points="279.80,133.90 290.10,133.90 291.17,135.05 280.87,135.05"/>
<polygon points="280.73,134.90 290.03,134.90 291.10,136.05 281.80,136.05"/>
<polygon points="281.66,135.90 286.96,135.90 288.04,137.05 282.74,137.05"/>
<polygon points="282.60,136.90 291.90,136.90 292.97,138.05 283.67,138.05"/>
<polygon points="283.53,137.90 290.83,137.90 291.90,139.05 284.60,139.05"/>
<polygon points="284.46,138.90 293.76,138.90 294.84,140.05 285.54,140.05"/>
<polygon points="285.40,139.90 295.30,139.90 296.37,141.05 286.47,141.05"/>
<polygon points="286.33,140.90 298.63,140.90 299.70,142.05 287.40,142.05"/>
<polygon points="287.26,141.90 298.56,141.90 299.64,143.05 288.34,143.05"/>
<polygon points="288.20,142.90 300.00,142.90 301.07,144.05 289.27,144.05"/>
<polygon points="289.13,143.90 298.43,143.90 299.50,145.05 290.20,145.05"/>
<polygon points="290.06,144.90 294.36,144.90 295.44,146.05 291.14,146.05"/>
<polygon points="291.00,145.90 294.30,145.90 295.37,147.05 292.07,147.05"/>
<polygon points="328.33,185.90 331.63,185.90 332.70,187.05 329.40,187.05"/>
<polygon points="329.26,186.90 332.56,186.90 333.63,188.05 330.33,188.05"/>
<polygon points="331.13,188.90 333.43,188.90 334.50,190.05 332.20,190.05"/>
<polygon points="332.06,189.90 334.36,189.90 335.43,191.05 333.13,191.05"/>
<polygon points="354.46,213.90 356.76,213.90 357.83,215.05 355.53,215.05"/>
<polygon points="355.39,214.90 357.69,214.90 358.76,216.05 356.46,216.05"/>
<polygon points="356.32,215.90 359.62,215.90 360.70,217.05 357.40,217.05"/>
<polygon points="357.26,216.90 359.56,216.90 360.63,218.05 358.33,218.05"/>
<polygon points="359.12,218.90 362.42,218.90 363.50,220.05 360.20,220.05"/>
<polygon points="360.06,219.90 364.36,219.90 365.43,221.05 361.13,221.05"/>
<polygon points="360.99,220.90 364.29,220.90 365.36,222.05 362.06,222.05"/>
<polygon points="361.92,221.90 364.22,221.90 365.30,223.05 363.00,223.05"/>
<polygon points="362.86,222.90 365.16,222.90 366.23,224.05 363.93,224.05"/>
<polygon points="363.79,223.90 367.09,223.90 368.16,225.05 364.86,225.05"/>
<polygon points="364.72,224.90 367.02,224.90 368.10,226.05 365.80,226.05"/>
<polygon points="365.66,225.90 367.96,225.90 369.03,227.05 366.73,227.05"/>
<polygon points="366.59,226.90 368.89,226.90 369.96,228.05 367.66,228.05"/>
<polygon points="374.06,234.90 377.36,234.90 378.43,236.05 375.13,236.05"/>
<polygon points="374.99,235.90 380.29,235.90 381.36,237.05 376.06,237.05"/>
<polygon points="375.92,236.90 381.22,236.90 382.30,238.05 377.00,238.05"/>
<polygon points="376.86,237.90 381.16,237.90 382.23,239.05 377.93,239.05"/>
<polygon points="377.79,238.90 382.09,238.90 383.16,240.05 378.86,240.05"/>
<polygon points="378.72,239.90 383.02,239.90 384.10,241.05 379.80,241.05"/>
<polygon points="379.66,240.90 385.96,240.90 387.03,242.05 380.73,242.05"/>
<polygon points="380.59,241.90 386.89,241.90 387.96,243.05 381.66,243.05"/>
<polygon points="381.52,242.90 385.82,242.90 386.90,244.05 382.60,244.05"/>
<polygon points="382.46,243.90 385.76,243.90 386.83,245.05 383.53,245.05"/>
<polygon points="383.39,244.90 387.69,244.90 388.76,246.05 384.46,246.05"/>
<polygon points="384.32,245.90 388.62,245.90 389.70,247.05 385.40,247.05"/>
<polygon points="385.26,246.90 388.56,246.90 389.63,248.05 386.33,248.05"/>
<polygon points="387.12,248.90 389.42,248.90 390.50,250.05 388.20,250.05"/>
<polygon points="388.06,249.90 390.36,249.90 391.43,251.05 389.13,251.05"/>
<polygon points="391.79,253.90 394.09,253.90 395.16,255.05 392.86,255.05"/>
<polygon points="392.72,254.90 396.02,254.90 397.10,256.05 393.80,256.05"/>
<polygon points="393.66,255.90 400.96,255.90 402.03,257.05 394.73,257.05"/>
<polygon points="394.59,256.90 398.89,256.90 399.96,258.05 395.66,258.05"/>
<polygon points="395.52,257.90 398.82,257.90 399.90,259.05 396.60,259.05"/>
<polygon points="396.46,258.90 400.76,258.90 401.83,260.05 397.53,260.05"/>
<polygon points="397.39,259.90 403.69,259.90 404.76,261.05 398.46,261.05"/>
<polygon points="398.32,260.90 411.62,260.90 412.70,262.05 399.40,262.05"/>
<polygon points="399.26,261.90 405.56,261.90 406.63,263.05 400.33,263.05"/>
<polygon points="400.19,262.90 408.49,262.90 409.56,264.05 401.26,264.05"/>
<polygon points="401.12,263.90 411.42,263.90 412.49,265.05 402.19,265.05"/>
<polygon points="402.05,264.90 411.35,264.90 412.43,266.05 403.13,266.05"/>
<polygon points="402.99,265.90 411.29,265.90 412.36,267.05 404.06,267.05"/>
<polygon points="403.92,266.90 417.22,266.90 418.29,268.05 404.99,268.05"/>
<polygon points="404.85,267.90 418.15,267.90 419.23,269.05 405.93,269.05"/>
<polygon points="405.79,268.90 420.09,268.90 421.16,270.05 406.86,270.05"/>
<polygon points="406.72,269.90 419.02,269.90 420.09,271.05 407.79,271.05"/>
<polygon points="407.65,270.90 415.95,270.90 417.03,272.05 408.73,272.05"/>
<polygon points="408.59,271.90 416.89,271.90 417.96,273.05 409.66,273.05"/>
<polygon points="409.52,272.90 416.82,272.90 417.89,274.05 410.59,274.05"/>
<polygon points="410.45,273.90 418.75,273.90 419.83,275.05 411.53,275.05"/>
<polygon points="411.39,274.90 418.69,274.90 419.76,276.05 412.46,276.05"/>
<polygon points="412.32,275.90 418.62,275.90 419.69,277.05 413.39,277.05"/>
<polygon points="413.25,276.90 424.55,276.90 425.63,278.05 414.33,278.05"/>
<polygon points="414.19,277.90 422.49,277.90 423.56,279.05 415.26,279.05"/>
<polygon points="415.12,278.90 422.42,278.90 423.49,280.05 416.19,280.05"/>
<polygon points="416.05,279.90 424.35,279.90 425.43,281.05 417.13,281.05"/>
<polygon points="416.99,280.90 421.29,280.90 422.36,282.05 418.06,282.05"/>
<polygon points="417.92,281.90 420.22,281.90 421.29,283.05 418.99,283.05"/>
<polygon points="425.39,289.90 430.69,289.90 431.76,291.05 426.46,291.05"/>
<polygon points="426.32,290.90 431.62,290.90 432.69,292.05 427.39,292.05"/>
<polygon points="442.19,307.90 445.99,307.90 447.06,309.05 443.26,309.05"/>
<polygon points="443.12,308.90 447.42,308.90 448.49,310.05 444.19,310.05"/>
<polygon points="444.05,309.90 448.35,309.90 449.43,311.05 445.13,311.05"/>
<polygon points="444.99,310.90 454.29,310.90 455.36,312.05 446.06,312.05"/>
<polygon points="445.92,311.90 454.22,311.90 455.29,313.05 446.99,313.05"/>
<polygon points="446.85,312.90 452.15,312.90 453.23,314.05 447.93,314.05"/>
<polygon points="447.79,313.90 453.09,313.90 454.16,315.05 448.86,315.05"/>
<polygon points="448.72,314.90 467.02,314.90 468.09,316.05 449.79,316.05"/>
<polygon points="449.65,315.90 465.95,315.90 467.02,317.05 450.72,317.05"/>
<polygon points="450.58,316.90 457.88,316.90 458.96,318.05 451.66,318.05"/>
<polygon points="451.52,317.90 458.82,317.90 459.89,319.05 452.59,319.05"/>
<polygon points="452.45,318.90 462.25,318.90 463.32,320.05 453.52,320.05"/>
<polygon points="453.38,319.90 461.68,319.90 462.76,321.05 454.46,321.05"/>
<polygon points="454.32,320.90 459.62,320.90 460.69,322.05 455.39,322.05"/>
<polygon points="455.25,321.90 460.55,321.90 461.62,323.05 456.32,323.05"/>
<polygon points="456.18,322.90 464.48,322.90 465.56,324.05 457.26,324.05"/>
<polygon points="457.12,323.90 464.42,323.90 465.49,325.05 458.19,325.05"/>
<polygon points="458.05,324.90 463.35,324.90 464.42,326.05 459.12,326.05"/>
<polygon points="458.98,325.90 467.28,325.90 468.36,327.05 460.06,327.05"/>
<polygon points="459.92,326.90 472.22,326.90 473.29,328.05 460.99,328.05"/>
<polygon points="460.85,327.90 471.15,327.90 472.22,329.05 461.92,329.05"/>
<polygon points="461.78,328.90 474.78,328.90 475.86,330.05 462.86,330.05"/>
<polygon points="462.72,329.90 475.02,329.90 476.09,331.05 463.79,331.05"/>
<polygon points="463.65,330.90 470.95,330.90 472.02,332.05 464.72,332.05"/>
<polygon points="464.58,331.90 470.88,331.90 471.96,333.05 465.66,333.05"/>
<polygon points="465.52,332.90 470.82,332.90 471.89,334.05 466.59,334.05"/>
<polygon points="466.45,333.90 469.75,333.90 470.82,335.05 467.52,335.05"/>
<polygon points="468.32,335.90 471.62,335.90 472.69,337.05 469.39,337.05"/>
<polygon points="469.25,336.90 477.55,336.90 478.62,338.05 470.32,338.05"/>
<polygon points="470.18,337.90 478.48,337.90 479.56,339.05 471.26,339.05"/>
<polygon points="471.12,338.90 476.42,338.90 477.49,340.05 472.19,340.05"/>
<polygon points="472.05,339.90 476.35,339.90 477.42,341.05 473.12,341.05"/>
<polygon points="472.98,340.90 477.28,340.90 478.36,342.05 474.06,342.05"/>
<polygon points="473.92,341.90 479.22,341.90 480.29,343.05 474.99,343.05"/>
<polygon points="474.85,342.90 482.75,342.90 483.82,344.05 475.92,344.05"/>
<polygon points="475.78,343.90 483.08,343.90 484.16,345.05 476.86,345.05"/>
<polygon points="476.72,344.90 482.02,344.90 483.09,346.05 477.79,346.05"/>
<polygon points="477.65,345.90 483.95,345.90 485.02,347.05 478.72,347.05"/>
<polygon points="478.58,346.90 485.88,346.90 486.96,348.05 479.66,348.05"/>
<polygon points="479.52,347.90 485.82,347.90 486.89,349.05 480.59,349.05"/>
<polygon points="480.45,348.90 490.75,348.90 491.82,350.05 481.52,350.05"/>
<polygon points="481.38,349.90 492.68,349.90 493.76,351.05 482.46,351.05"/>
<polygon points="482.32,350.90 488.62,350.90 489.69,352.05 483.39,352.05"/>
<polygon points="483.25,351.90 486.55,351.90 487.62,353.05 484.32,353.05"/>
<polygon points="486.05,354.90 488.35,354.90 489.42,356.05 487.12,356.05"/>
<polygon points="486.98,355.90 490.28,355.90 491.36,357.05 488.06,357.05"/>
<polygon points="487.92,356.90 490.22,356.90 491.29,358.05 488.99,358.05"/>
<polygon points="489.78,358.90 493.08,358.90 494.16,360.05 490.86,360.05"/>
<polygon points="490.72,359.90 497.02,359.90 498.09,361.05 491.79,361.05"/>
<polygon points="491.65,360.90 496.95,360.90 498.02,362.05 492.72,362.05"/>
</g>
<line x1="225.50" y1="75.40" x2="492.79" y2="361.80" stroke="#262626" stroke-width="1.05"/>
<g stroke="#707070" stroke-width="1.05">
<line x1="64.0" y1="89.4" x2="286.2" y2="89.4"/>
<line x1="64.0" y1="106.4" x2="300.8" y2="106.4"/>
<line x1="64.0" y1="125.5" x2="317.6" y2="125.5"/>
<line x1="64.0" y1="129.5" x2="321.5" y2="129.5"/>
<line x1="64.0" y1="144.8" x2="335.5" y2="144.8"/>
<line x1="32.0" y1="189.4" x2="374.4" y2="189.4"/>
<line x1="32.0" y1="193.2" x2="379.0" y2="193.2"/>
<line x1="32.0" y1="201.2" x2="385.0" y2="201.2"/>
<line x1="32.0" y1="219.0" x2="401.6" y2="219.0"/>
<line x1="32.0" y1="232.6" x2="412.0" y2="232.6"/>
<line x1="32.0" y1="235.3" x2="414.0" y2="235.3"/>
<line x1="32.0" y1="258.4" x2="436.3" y2="258.4"/>
<line x1="32.0" y1="280.4" x2="457.4" y2="280.4"/>
<line x1="32.0" y1="289.5" x2="465.0" y2="289.5"/>
<line x1="32.0" y1="291.9" x2="463.4" y2="291.9"/>
<line x1="32.0" y1="310.6" x2="483.0" y2="310.6"/>
<line x1="32.0" y1="332.9" x2="502.7" y2="332.9"/>
<line x1="32.0" y1="343.0" x2="510.3" y2="343.0"/>
<line x1="32.0" y1="351.0" x2="519.3" y2="351.0"/>
</g>
<g><rect x="172.60" y="368.9" width="5.99" height="6.0" fill="rgb(20,20,232)" stroke="rgba(0,0,0,0.16)" stroke-width="0.5"/><rect x="178.59" y="368.9" width="5.99" height="6.0" fill="rgb(21,21,232)" stroke="rgba(0,0,0,0.16)" stroke-width="0.5"/><rect x="184.58" y="368.9" width="5.99" height="6.0" fill="rgb(21,21,232)" stroke="rgba(0,0,0,0.16)" stroke-width="0.5"/><rect x="190.57" y="368.9" width="5.99" height="6.0" fill="rgb(22,22,232)" stroke="rgba(0,0,0,0.16)" stroke-width="0.5"/><rect x="196.56" y="368.9" width="5.99" height="6.0" fill="rgb(22,22,232)" stroke="rgba(0,0,0,0.16)" stroke-width="0.5"/><rect x="202.55" y="368.9" width="5.99" height="6.0" fill="rgb(23,23,232)" stroke="rgba(0,0,0,0.16)" stroke-width="0.5"/><rect x="208.54" y="368.9" width="5.99" height="6.0" fill="rgb(23,23,232)" stroke="rgba(0,0,0,0.16)" stroke-width="0.5"/><rect x="214.53" y="368.9" width="5.99" height="6.0" fill="rgb(24,24,232)" stroke="rgba(0,0,0,0.16)" stroke-width="0.5"/><rect x="220.53" y="368.9" width="5.99" height="6.0" fill="rgb(42,42,234)" stroke="rgba(0,0,0,0.16)" stroke-width="0.5"/><rect x="226.52" y="368.9" width="5.99" height="6.0" fill="rgb(64,64,236)" stroke="rgba(0,0,0,0.16)" stroke-width="0.5"/><rect x="232.51" y="368.9" width="5.99" height="6.0" fill="rgb(85,85,238)" stroke="rgba(0,0,0,0.16)" stroke-width="0.5"/><rect x="238.50" y="368.9" width="5.99" height="6.0" fill="rgb(107,107,240)" stroke="rgba(0,0,0,0.16)" stroke-width="0.5"/><rect x="244.49" y="368.9" width="5.99" height="6.0" fill="rgb(128,128,242)" stroke="rgba(0,0,0,0.16)" stroke-width="0.5"/><rect x="250.48" y="368.9" width="5.99" height="6.0" fill="rgb(149,149,244)" stroke="rgba(0,0,0,0.16)" stroke-width="0.5"/><rect x="256.47" y="368.9" width="5.99" height="6.0" fill="rgb(171,171,246)" stroke="rgba(0,0,0,0.16)" stroke-width="0.5"/><rect x="262.46" y="368.9" width="5.99" height="6.0" fill="rgb(192,192,248)" stroke="rgba(0,0,0,0.16)" stroke-width="0.5"/><rect x="268.45" y="368.9" width="5.99" height="6.0" fill="rgb(207,207,249)" stroke="rgba(0,0,0,0.16)" stroke-width="0.5"/><rect x="274.44" y="368.9" width="5.99" height="6.0" fill="rgb(221,221,251)" stroke="rgba(0,0,0,0.16)" stroke-width="0.5"/><rect x="280.43" y="368.9" width="5.99" height="6.0" fill="rgb(236,236,252)" stroke="rgba(0,0,0,0.16)" stroke-width="0.5"/><rect x="286.42" y="368.9" width="5.99" height="6.0" fill="rgb(244,244,254)" stroke="rgba(0,0,0,0.16)" stroke-width="0.5"/><rect x="292.41" y="368.9" width="5.99" height="6.0" fill="rgb(252,252,255)" stroke="rgba(0,0,0,0.16)" stroke-width="0.5"/><rect x="298.40" y="368.9" width="5.99" height="6.0" fill="rgb(255,255,255)" stroke="rgba(0,0,0,0.16)" stroke-width="0.5"/><rect x="304.40" y="368.9" width="5.99" height="6.0" fill="rgb(254,241,246)" stroke="rgba(0,0,0,0.16)" stroke-width="0.5"/><rect x="310.39" y="368.9" width="5.99" height="6.0" fill="rgb(253,230,240)" stroke="rgba(0,0,0,0.16)" stroke-width="0.5"/><rect x="316.38" y="368.9" width="5.99" height="6.0" fill="rgb(251,220,233)" stroke="rgba(0,0,0,0.16)" stroke-width="0.5"/><rect x="322.37" y="368.9" width="5.99" height="6.0" fill="rgb(250,210,227)" stroke="rgba(0,0,0,0.16)" stroke-width="0.5"/><rect x="328.36" y="368.9" width="5.99" height="6.0" fill="rgb(248,200,220)" stroke="rgba(0,0,0,0.16)" stroke-width="0.5"/><rect x="334.35" y="368.9" width="5.99" height="6.0" fill="rgb(245,182,206)" stroke="rgba(0,0,0,0.16)" stroke-width="0.5"/><rect x="340.34" y="368.9" width="5.99" height="6.0" fill="rgb(243,163,191)" stroke="rgba(0,0,0,0.16)" stroke-width="0.5"/><rect x="346.33" y="368.9" width="5.99" height="6.0" fill="rgb(240,144,176)" stroke="rgba(0,0,0,0.16)" stroke-width="0.5"/><rect x="352.32" y="368.9" width="5.99" height="6.0" fill="rgb(240,122,159)" stroke="rgba(0,0,0,0.16)" stroke-width="0.5"/><rect x="358.31" y="368.9" width="5.99" height="6.0" fill="rgb(240,100,143)" stroke="rgba(0,0,0,0.16)" stroke-width="0.5"/><rect x="364.30" y="368.9" width="5.99" height="6.0" fill="rgb(240,78,125)" stroke="rgba(0,0,0,0.16)" stroke-width="0.5"/><rect x="370.29" y="368.9" width="5.99" height="6.0" fill="rgb(240,59,94)" stroke="rgba(0,0,0,0.16)" stroke-width="0.5"/><rect x="376.28" y="368.9" width="5.99" height="6.0" fill="rgb(240,40,62)" stroke="rgba(0,0,0,0.16)" stroke-width="0.5"/><rect x="382.27" y="368.9" width="5.99" height="6.0" fill="rgb(242,28,40)" stroke="rgba(0,0,0,0.16)" stroke-width="0.5"/><rect x="388.27" y="368.9" width="5.99" height="6.0" fill="rgb(246,21,27)" stroke="rgba(0,0,0,0.16)" stroke-width="0.5"/><rect x="394.26" y="368.9" width="5.99" height="6.0" fill="rgb(250,14,14)" stroke="rgba(0,0,0,0.16)" stroke-width="0.5"/><rect x="400.25" y="368.9" width="5.99" height="6.0" fill="rgb(251,11,11)" stroke="rgba(0,0,0,0.16)" stroke-width="0.5"/><rect x="406.24" y="368.9" width="5.99" height="6.0" fill="rgb(252,8,8)" stroke="rgba(0,0,0,0.16)" stroke-width="0.5"/><rect x="412.23" y="368.9" width="5.99" height="6.0" fill="rgb(253,6,6)" stroke="rgba(0,0,0,0.16)" stroke-width="0.5"/><rect x="418.22" y="368.9" width="5.99" height="6.0" fill="rgb(254,3,3)" stroke="rgba(0,0,0,0.16)" stroke-width="0.5"/><rect x="424.21" y="368.9" width="5.99" height="6.0" fill="rgb(255,0,0)" stroke="rgba(0,0,0,0.16)" stroke-width="0.5"/></g>
<circle cx="301.40" cy="371.90" r="0.75" fill="#333"/>
<path d="M172,370.6 L169.8,371.9 L172,373.2" fill="none" stroke="#888" stroke-width="0.6"/>
<path d="M430.6,370.8 L433.2,371.9 L430.6,373" fill="#555" stroke="#555" stroke-width="0.5"/>
<text font-family="Liberation Sans, sans-serif" font-weight="bold" stroke="#000" stroke-width="0.15" fill="#000" font-size="8.8" text-anchor="end" transform="translate(74.8,67.4) rotate(90)">Abnormality (%)</text>
<text font-family="Liberation Sans, sans-serif" font-weight="bold" stroke="#000" stroke-width="0.15" fill="#000" font-size="8.7" text-anchor="end" transform="translate(110.6,67.4) rotate(90)">NN (%)</text>
<text font-family="Liberation Sans, sans-serif" font-weight="bold" stroke="#000" stroke-width="0.15" fill="#000" font-size="7.3" text-anchor="end" transform="translate(131.8,67.0) rotate(90)">NPM1 mutant (%)</text>
<text font-family="Liberation Sans, sans-serif" font-weight="bold" stroke="#000" stroke-width="0.15" fill="#000" font-size="9.0" text-anchor="end" transform="translate(153.0,67.4) rotate(90)">Cluster #</text>
<text font-family="Liberation Sans, sans-serif" font-weight="bold" stroke="#000" stroke-width="0.15" fill="#000" font-size="8.4" text-anchor="end" transform="translate(170.9,67.0) rotate(90)">FAB</text>
<text font-family="Liberation Sans, sans-serif" font-weight="bold" stroke="#000" stroke-width="0.15" fill="#000" font-size="8.9" text-anchor="end" transform="translate(184.6,67.4) rotate(90)">Karyotype</text>
<text font-family="Liberation Sans, sans-serif" font-weight="bold" stroke="#000" stroke-width="0.15" fill="#000" font-size="8.5" text-anchor="end" transform="translate(197.7,67.0) rotate(90)"><tspan font-style="italic">FLT3</tspan> ITD</text>
<text font-family="Liberation Sans, sans-serif" font-weight="bold" stroke="#000" stroke-width="0.15" fill="#000" font-size="8.7" text-anchor="end" transform="translate(212.2,67.0) rotate(90)"><tspan font-style="italic">NPM1</tspan> mutant</text>
<text font-family="Liberation Sans, sans-serif" font-weight="bold" stroke="#000" stroke-width="0.15" fill="#000" font-size="10.2" text-anchor="end" transform="translate(224.8,66.8) rotate(90)">CD34</text>
<text font-family="Liberation Sans, sans-serif" font-weight="bold" stroke="#000" stroke-width="0.15" fill="#000" font-size="7.5" x="82.3" y="83.1" text-anchor="end" >t(11q23) (43)</text>
<text font-family="Liberation Sans, sans-serif" font-weight="bold" stroke="#000" stroke-width="0.15" fill="#000" font-size="7.5" x="95.6" y="83.1" text-anchor="start" >43</text>
<text font-family="Liberation Sans, sans-serif" font-weight="bold" stroke="#000" stroke-width="0.15" fill="#000" font-size="7.5" x="114.6" y="83.1" text-anchor="start" >1/12 (8)</text>
<text font-family="Liberation Sans, sans-serif" font-weight="bold" stroke="#000" stroke-width="0.15" fill="#000" font-size="10.0" x="160.5" y="82.9" text-anchor="end" >1</text>
<text font-family="Liberation Sans, sans-serif" font-weight="bold" stroke="#000" stroke-width="0.15" fill="#000" font-size="7.5" x="82.3" y="102.2" text-anchor="end" ><tspan font-style="italic">FLT3</tspan> ITD (82)</text>
<text font-family="Liberation Sans, sans-serif" font-weight="bold" stroke="#000" stroke-width="0.15" fill="#000" font-size="7.5" x="95.6" y="102.2" text-anchor="start" >76</text>
<text font-family="Liberation Sans, sans-serif" font-weight="bold" stroke="#000" stroke-width="0.15" fill="#000" font-size="7.5" x="114.6" y="102.2" text-anchor="start" >13/17 (76)</text>
<text font-family="Liberation Sans, sans-serif" font-weight="bold" stroke="#000" stroke-width="0.15" fill="#000" font-size="10.0" x="160.5" y="101.9" text-anchor="end" >2</text>
<text font-family="Liberation Sans, sans-serif" font-weight="bold" stroke="#000" stroke-width="0.15" fill="#000" font-size="7.5" x="82.3" y="116.8" text-anchor="end" ><tspan font-style="italic">FLT3</tspan> ITD (53)</text>
<text font-family="Liberation Sans, sans-serif" font-weight="bold" stroke="#000" stroke-width="0.15" fill="#000" font-size="7.5" x="95.6" y="116.8" text-anchor="start" >68</text>
<text font-family="Liberation Sans, sans-serif" font-weight="bold" stroke="#000" stroke-width="0.15" fill="#000" font-size="7.5" x="114.6" y="116.8" text-anchor="start" >13/19 (68)</text>
<text font-family="Liberation Sans, sans-serif" font-weight="bold" stroke="#000" stroke-width="0.15" fill="#000" font-size="10.0" x="160.5" y="117.1" text-anchor="end" >3</text>
<text font-family="Liberation Sans, sans-serif" font-weight="bold" stroke="#000" stroke-width="0.15" fill="#000" font-size="7.5" x="77.2" y="141.8" text-anchor="end" ><tspan font-style="italic">CEBPA</tspan> (60)</text>
<text font-family="Liberation Sans, sans-serif" font-weight="bold" stroke="#000" stroke-width="0.15" fill="#000" font-size="7.5" x="95.6" y="141.8" text-anchor="start" >67</text>
<text font-family="Liberation Sans, sans-serif" font-weight="bold" stroke="#000" stroke-width="0.15" fill="#000" font-size="7.5" x="114.6" y="141.8" text-anchor="start" >0/15 (0)</text>
<text font-family="Liberation Sans, sans-serif" font-weight="bold" stroke="#000" stroke-width="0.15" fill="#000" font-size="10.0" x="160.5" y="140.6" text-anchor="end" >4</text>
<text font-family="Liberation Sans, sans-serif" font-weight="bold" stroke="#000" stroke-width="0.15" fill="#000" font-size="7.5" x="94.8" y="171.8" text-anchor="start" >61</text>
<text font-family="Liberation Sans, sans-serif" font-weight="bold" stroke="#000" stroke-width="0.15" fill="#000" font-size="7.5" x="114.6" y="171.8" text-anchor="start" >29/42 (69)</text>
<text font-family="Liberation Sans, sans-serif" font-weight="bold" stroke="#000" stroke-width="0.15" fill="#000" font-size="10.0" x="160.5" y="171.1" text-anchor="end" >5</text>
<text font-family="Liberation Sans, sans-serif" font-weight="bold" stroke="#000" stroke-width="0.15" fill="#000" font-size="7.5" x="92.0" y="200.8" text-anchor="end" ><tspan font-style="italic">FLT3</tspan> ITD (100)</text>
<text font-family="Liberation Sans, sans-serif" font-weight="bold" stroke="#000" stroke-width="0.15" fill="#000" font-size="7.5" x="100.6" y="200.8" text-anchor="start" >88</text>
<text font-family="Liberation Sans, sans-serif" font-weight="bold" stroke="#000" stroke-width="0.15" fill="#000" font-size="7.5" x="114.6" y="200.8" text-anchor="start" >8/8 (100)</text>
<text font-family="Liberation Sans, sans-serif" font-weight="bold" stroke="#000" stroke-width="0.15" fill="#000" font-size="10.0" x="160.5" y="200.4" text-anchor="end" >6</text>
<text font-family="Liberation Sans, sans-serif" font-weight="bold" stroke="#000" stroke-width="0.15" fill="#000" font-size="7.5" x="95.6" y="214.8" text-anchor="start" >67</text>
<text font-family="Liberation Sans, sans-serif" font-weight="bold" stroke="#000" stroke-width="0.15" fill="#000" font-size="7.5" x="114.6" y="214.8" text-anchor="start" >13/18 (72)</text>
<text font-family="Liberation Sans, sans-serif" font-weight="bold" stroke="#000" stroke-width="0.15" fill="#000" font-size="10.0" x="160.5" y="214.5" text-anchor="end" >7</text>
<text font-family="Liberation Sans, sans-serif" font-weight="bold" stroke="#000" stroke-width="0.15" fill="#000" font-size="7.5" x="114.6" y="230.2" text-anchor="start" >1/12 (8)</text>
<text font-family="Liberation Sans, sans-serif" font-weight="bold" stroke="#000" stroke-width="0.15" fill="#000" font-size="10.0" x="160.5" y="229.6" text-anchor="end" >8</text>
<text font-family="Liberation Sans, sans-serif" font-weight="bold" stroke="#000" stroke-width="0.15" fill="#000" font-size="7.5" x="35.9" y="251.6" text-anchor="start" >CBFB/MYH11 (100)</text>
<text font-family="Liberation Sans, sans-serif" font-weight="bold" stroke="#000" stroke-width="0.15" fill="#000" font-size="7.5" x="114.6" y="251.6" text-anchor="start" >0/21 (0)</text>
<text font-family="Liberation Sans, sans-serif" font-weight="bold" stroke="#000" stroke-width="0.15" fill="#000" font-size="10.0" x="160.5" y="250.6" text-anchor="end" >9</text>
<text font-family="Liberation Sans, sans-serif" font-weight="bold" stroke="#000" stroke-width="0.15" fill="#000" font-size="7.5" x="33.8" y="274.4" text-anchor="start" ><tspan font-style="italic">EVI1</tspan> (45)</text>
<text font-family="Liberation Sans, sans-serif" font-weight="bold" stroke="#000" stroke-width="0.15" fill="#000" font-size="7.5" x="111.7" y="274.4" text-anchor="start" >0/22 (0)</text>
<text font-family="Liberation Sans, sans-serif" font-weight="bold" stroke="#000" stroke-width="0.15" fill="#000" font-size="10.0" x="160.5" y="273.9" text-anchor="end" >10</text>
<text font-family="Liberation Sans, sans-serif" font-weight="bold" stroke="#000" stroke-width="0.15" fill="#000" font-size="7.5" x="93.5" y="288.2" text-anchor="start" >78</text>
<text font-family="Liberation Sans, sans-serif" font-weight="bold" stroke="#000" stroke-width="0.15" fill="#000" font-size="7.5" x="111.7" y="288.2" text-anchor="start" >9/9 (100)</text>
<text font-family="Liberation Sans, sans-serif" font-weight="bold" stroke="#000" stroke-width="0.15" fill="#000" font-size="10.0" x="160.5" y="287.3" text-anchor="end" >11</text>
<text font-family="Liberation Sans, sans-serif" font-weight="bold" stroke="#000" stroke-width="0.15" fill="#000" font-size="7.5" x="33.0" y="303.3" text-anchor="start" >PML/RARA (100)</text>
<text font-family="Liberation Sans, sans-serif" font-weight="bold" stroke="#000" stroke-width="0.15" fill="#000" font-size="7.5" x="111.7" y="303.3" text-anchor="start" >0/17 (0)</text>
<text font-family="Liberation Sans, sans-serif" font-weight="bold" stroke="#000" stroke-width="0.15" fill="#000" font-size="10.0" x="160.5" y="303.0" text-anchor="end" >12</text>
<text font-family="Liberation Sans, sans-serif" font-weight="bold" stroke="#000" stroke-width="0.15" fill="#000" font-size="7.5" x="33.0" y="325.3" text-anchor="start" >AML1/ETO (100)</text>
<text font-family="Liberation Sans, sans-serif" font-weight="bold" stroke="#000" stroke-width="0.15" fill="#000" font-size="7.5" x="111.7" y="325.3" text-anchor="start" >0/21 (0)</text>
<text font-family="Liberation Sans, sans-serif" font-weight="bold" stroke="#000" stroke-width="0.15" fill="#000" font-size="10.0" x="160.5" y="323.4" text-anchor="end" >13</text>
<text font-family="Liberation Sans, sans-serif" font-weight="bold" stroke="#000" stroke-width="0.15" fill="#000" font-size="7.5" x="111.7" y="341.3" text-anchor="start" >3/10 (30)</text>
<text font-family="Liberation Sans, sans-serif" font-weight="bold" stroke="#000" stroke-width="0.15" fill="#000" font-size="10.0" x="160.5" y="342.0" text-anchor="end" >14</text>
<text font-family="Liberation Sans, sans-serif" font-weight="bold" stroke="#000" stroke-width="0.15" fill="#000" font-size="7.5" x="33.0" y="349.6" text-anchor="start" ><tspan font-style="italic">CEBPA</tspan> (100)</text>
<text font-family="Liberation Sans, sans-serif" font-weight="bold" stroke="#000" stroke-width="0.15" fill="#000" font-size="7.5" x="92.3" y="349.6" text-anchor="start" >63</text>
<text font-family="Liberation Sans, sans-serif" font-weight="bold" stroke="#000" stroke-width="0.15" fill="#000" font-size="7.5" x="111.7" y="349.6" text-anchor="start" >0/8 (0)</text>
<text font-family="Liberation Sans, sans-serif" font-weight="bold" stroke="#000" stroke-width="0.15" fill="#000" font-size="10.0" x="160.5" y="350.3" text-anchor="end" >15</text>
<text font-family="Liberation Sans, sans-serif" font-weight="bold" stroke="#000" stroke-width="0.15" fill="#000" font-size="7.5" x="33.0" y="360.0" text-anchor="start" >t(11q23) (45)</text>
<text font-family="Liberation Sans, sans-serif" font-weight="bold" stroke="#000" stroke-width="0.15" fill="#000" font-size="7.5" x="111.7" y="360.0" text-anchor="start" >1/11 (9)</text>
<text font-family="Liberation Sans, sans-serif" font-weight="bold" stroke="#000" stroke-width="0.15" fill="#000" font-size="10.0" x="160.5" y="359.4" text-anchor="end" >16</text>
<text font-family="Liberation Sans, sans-serif" font-weight="bold" stroke="#000" stroke-width="0.15" fill="#000" font-size="13.6" x="260.4" y="392.8" text-anchor="start" >AML patients</text>
<path d="M352.5,387.6 H365.8 V384.3 L377.6,389.5 L365.8,394.8 V391.3 H352.5 Z" fill="#000"/>
<text font-family="Liberation Sans, sans-serif" font-weight="bold" stroke="#000" stroke-width="0.15" fill="#000" font-size="13.8" text-anchor="start" transform="translate(6.9,184.2) rotate(90)">AML patients</text>
<path d="M6.8,275.3 H9.9 V284.3 H15.4 L8.35,299.2 L1.3,284.3 H6.8 Z" fill="#000"/>
</svg>
</body></html>
